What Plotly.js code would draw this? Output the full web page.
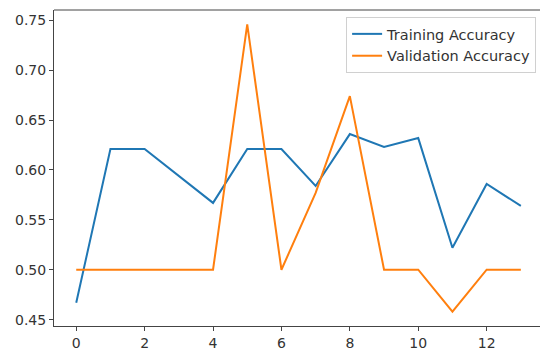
<!DOCTYPE html>
<html>
<head>
<meta charset="utf-8">
<script src="https://cdn.plot.ly/plotly-3.0.1.min.js"></script>
<style>
html,body{margin:0;padding:0;background:#fff;overflow:hidden;}
#chart{width:540px;height:354px;}
</style>
</head>
<body>
<div id="chart"></div>
<script>
const epochs = [0,1,2,3,4,5,6,7,8,9,10,11,12,13];
const trainingAccuracy = [0.467,0.621,0.621,0.594,0.567,0.621,0.621,0.584,0.636,0.623,0.632,0.522,0.586,0.564];
const validationAccuracy = [0.500,0.500,0.500,0.500,0.500,0.746,0.500,0.577,0.674,0.500,0.500,0.458,0.500,0.500];
const xTicks = [0,2,4,6,8,10,12];
const yTicks = [0.45,0.50,0.55,0.60,0.65,0.70,0.75];

const traces = [
  {x: epochs, y: trainingAccuracy, type: 'scatter', mode: 'lines', name: 'Training Accuracy',
   line: {color: '#1f77b4', width: 2}},
  {x: epochs, y: validationAccuracy, type: 'scatter', mode: 'lines', name: 'Validation Accuracy',
   line: {color: '#ff7f0e', width: 2}}
];

const axisFont = {family: 'DejaVu Sans, sans-serif', size: 14, color: '#333'};
const layout = {
  width: 540, height: 354,
  margin: {l: 54, r: 0, t: 10, b: 28},
  paper_bgcolor: '#fff', plot_bgcolor: '#fff',
  showlegend: true,
  legend: {x: 0.992, xanchor: 'right', y: 0.978, yanchor: 'top',
    bgcolor: 'rgba(255,255,255,0.9)', bordercolor: '#d0d0d0', borderwidth: 1,
    font: {family: 'DejaVu Sans, sans-serif', size: 14.5, color: '#333'}},
  xaxis: {range: [-0.65, 13.56], tickvals: xTicks, ticktext: xTicks.map(String),
    showgrid: false, zeroline: false, showline: true, linecolor: '#444', linewidth: 1,
    ticks: 'outside', ticklen: 4, tickcolor: '#444', tickfont: axisFont},
  yaxis: {range: [0.4436, 0.7604], tickvals: yTicks, ticktext: yTicks.map(v => v.toFixed(2)),
    showgrid: false, zeroline: false, showline: true, linecolor: '#444', linewidth: 1,
    ticks: 'outside', ticklen: 4, tickcolor: '#444', tickfont: axisFont},
  shapes: [{type: 'line', xref: 'paper', yref: 'paper', x0: 0, x1: 1, y0: 1, y1: 1,
    line: {color: '#444', width: 1}}]
};

Plotly.newPlot('chart', traces, layout, {displayModeBar: false, staticPlot: true});
</script>
</body>
</html>
